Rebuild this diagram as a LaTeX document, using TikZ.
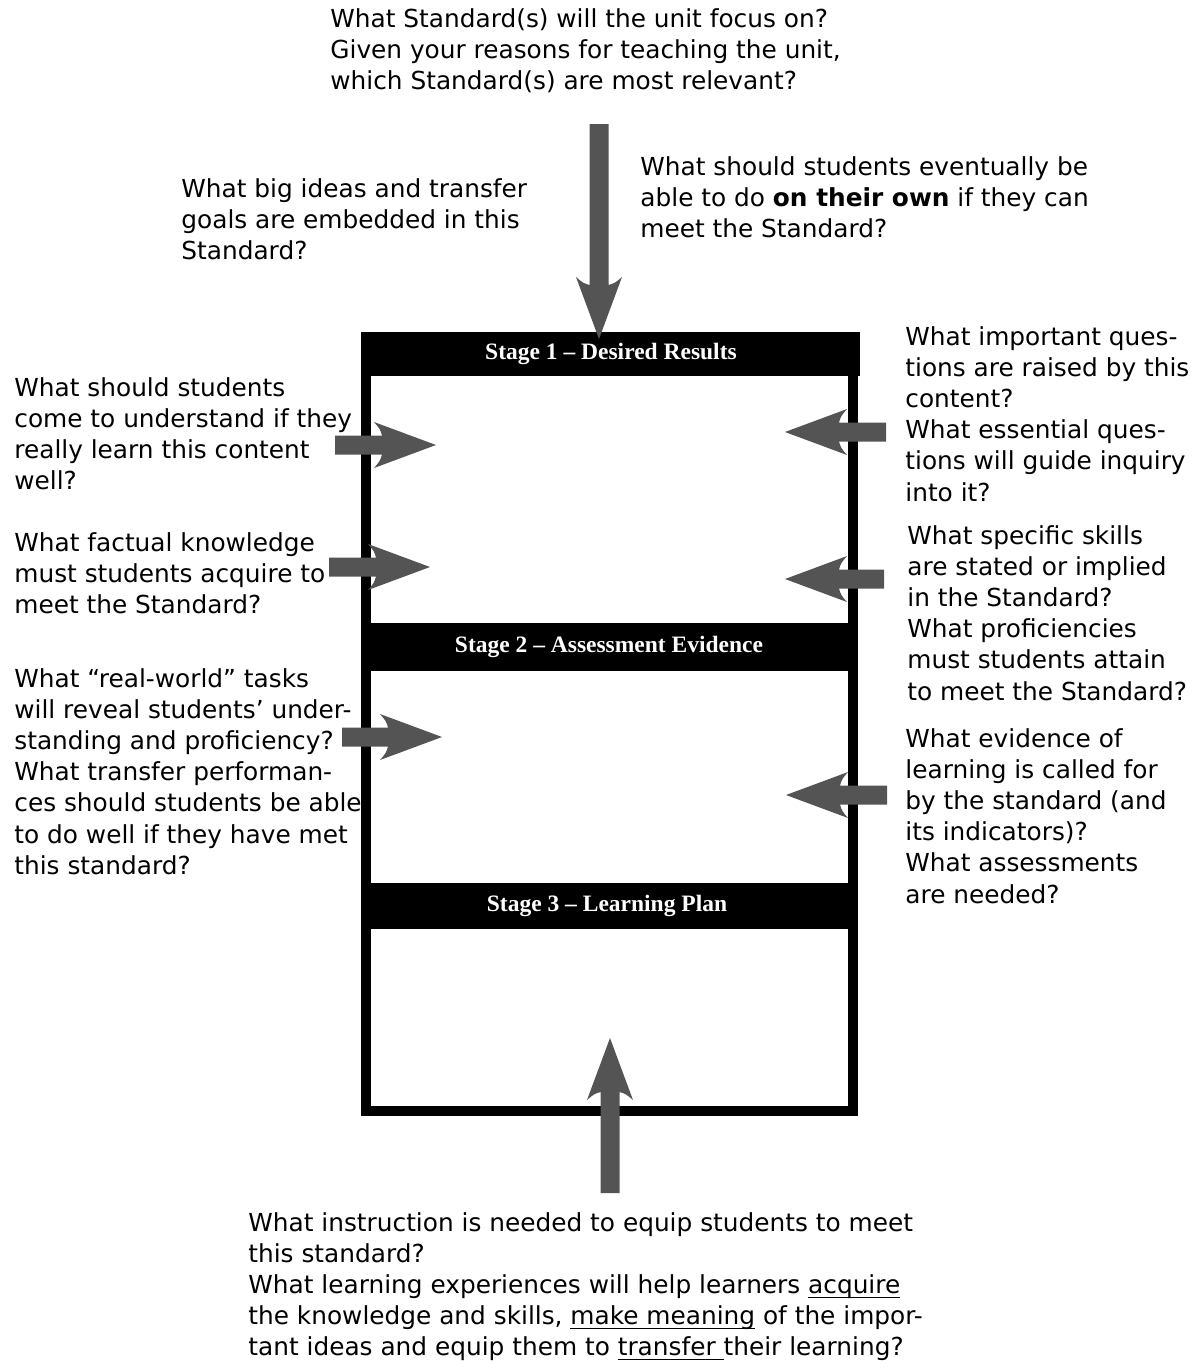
\documentclass[tikz,border=0pt]{standalone}
\usepackage{fontspec}
\setmainfont{DejaVu Sans}
\newfontfamily\hdrfont{Liberation Serif}
\definecolor{arrowgray}{HTML}{545454}
\newcommand{\myul}[1]{\setbox0\hbox{#1}\rlap{\rule[-2.2pt]{\wd0}{0.6pt}}\box0\relax}
\tikzset{
  q/.style={anchor=base west, align=left, inner sep=0pt, font=\fontsize{12.4pt}{15.6pt}\selectfont},
  hdrbar/.style={fill=black},
  hdrtext/.style={text=white, inner sep=0pt, font=\hdrfont\bfseries\fontsize{11.75pt}{14pt}\selectfont},
  frame/.style={draw=black, line width=5pt},
  fatfill/.style={fill=arrowgray}
}
% #1 tip coordinate name, #2 direction angle, #3 total length (px)
\newcommand{\fatarrow}[3]{%
  \fill[fatfill, shift={(#1)}, rotate=#2] (0,0) -- (-62,23) .. controls (-56,16) .. (-54,9.5)
    -- (-#3,9.5) -- (-#3,-9.5) -- (-54,-9.5) .. controls (-56,-16) .. (-62,-23) -- cycle;}
\begin{document}
\begin{tikzpicture}[x=0.5pt, y=-0.5pt]
\useasboundingbox (0,0) rectangle (1197,1372);

% frame and stage headers
\draw[frame] (366,345) rectangle (853,1111);
\fill[hdrbar] (361,332) rectangle (860,376);
\fill[hdrbar] (361,623) rectangle (858,671);
\fill[hdrbar] (361,883) rectangle (858,929);
\node[hdrtext] (h1) at (611,354) {Stage 1 – Desired Results};
\node[hdrtext] (h2) at (609,647) {Stage 2 – Assessment Evidence};
\node[hdrtext] (h3) at (607,906) {Stage 3 – Learning Plan};

% questions (anchored at the baseline of their last line)
\node[q] (top) at (330,89.4) {What Standard(s) will the unit focus on?\\Given your reasons for teaching the unit,\\which Standard(s) are most relevant?};
\node[q] (big) at (181,259.4) {What big ideas and transfer\\goals are embedded in this\\Standard?};
\node[q] (own) at (640,237.4) {What should students eventually be\\able to do \textbf{on their own} if they can\\meet the Standard?};
\node[q] (und) at (14,489.6) {What should students\\come to understand if they\\really learn this content\\well?};
\node[q] (fact) at (14,613.4) {What factual knowledge\\must students acquire to\\meet the Standard?};
\node[q] (real) at (14,874.2) {What “real-world” tasks\\will reveal students’ under-\\standing and proficiency?\\What transfer performan-\\ces should students be able\\to do well if they have met\\this standard?};
\node[q] (ques) at (905,501) {What important ques-\\tions are raised by this\\content?\\What essential ques-\\tions will guide inquiry\\into it?};
\node[q] (skill) at (907,700) {What specific skills\\are stated or implied\\in the Standard?\\What proficiencies\\must students attain\\to meet the Standard?};
\node[q] (evid) at (905,903) {What evidence of\\learning is called for\\by the standard (and\\its indicators)?\\What assessments\\are needed?};
\node[q] (instr) at (248,1355.8) {What instruction is needed to equip students to meet\\this standard?\\What learning experiences will help learners \myul{acquire}\\the knowledge and skills, \myul{make meaning} of the impor-\\tant ideas and equip them to \myul{transfer\ }their learning?};

% arrows
\coordinate (tTop) at (599,339);
\coordinate (tBot) at (610,1038);
\coordinate (tA1) at (436,445);
\coordinate (tA2) at (430,567);
\coordinate (tA3) at (442,737);
\coordinate (tB1) at (785,432);
\coordinate (tB2) at (785,579);
\coordinate (tB3) at (786,795);
\fatarrow{tTop}{-90}{215}
\fatarrow{tBot}{90}{155}
\fatarrow{tA1}{0}{101}
\fatarrow{tA2}{0}{101}
\fatarrow{tA3}{0}{100}
\fatarrow{tB1}{180}{101}
\fatarrow{tB2}{180}{99}
\fatarrow{tB3}{180}{101}
\end{tikzpicture}
\end{document}
